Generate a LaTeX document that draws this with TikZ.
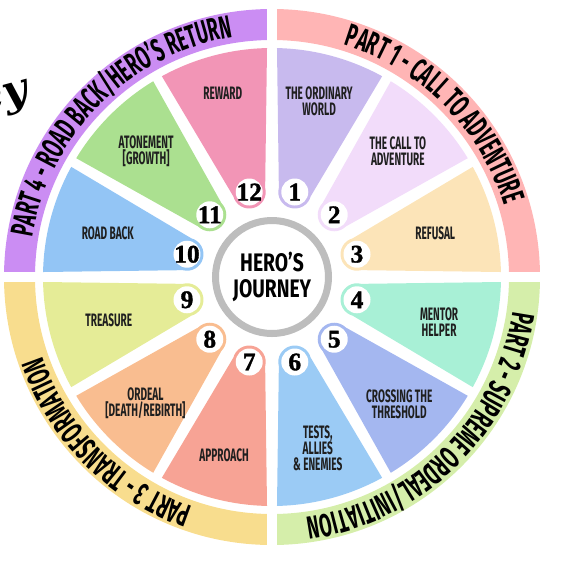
\documentclass[tikz,border=0pt]{standalone}
\usepackage{fontspec}
\usetikzlibrary{calc,decorations.text}

\newfontfamily\bandfont[FakeStretch=0.56]{Fira Sans}
\newfontfamily\hubfont[FakeStretch=0.76]{Fira Sans}
\newfontfamily\numfont[BoldFeatures={FakeBold=1.4}]{Liberation Serif}
\newfontfamily\titlefont{DejaVu Serif}

% part colours (outer band)
\definecolor{bandone}{HTML}{FFB5B5}
\definecolor{bandtwo}{HTML}{D5EEAA}
\definecolor{bandthree}{HTML}{F8DD8E}
\definecolor{bandfour}{HTML}{CB8DF3}
% stage colours (wedges)
\definecolor{stage1}{HTML}{C8BAEE}
\definecolor{stage2}{HTML}{F2DCFA}
\definecolor{stage3}{HTML}{FCE4B8}
\definecolor{stage4}{HTML}{A8F0D6}
\definecolor{stage5}{HTML}{A4B7F0}
\definecolor{stage6}{HTML}{9BCBF5}
\definecolor{stage7}{HTML}{F7A395}
\definecolor{stage8}{HTML}{F9BD90}
\definecolor{stage9}{HTML}{E5EC97}
\definecolor{stage10}{HTML}{93C5F5}
\definecolor{stage11}{HTML}{ABE090}
\definecolor{stage12}{HTML}{F295B6}
\definecolor{hubgray}{HTML}{BDBDBD}

\tikzset{
    stagelabel/.style={font=\bandfont\bfseries\fontsize{13.5}{12}\selectfont, align=center, text=black!88},
    stagenum/.style={font=\numfont\bfseries\fontsize{19}{19}\selectfont, inner sep=0pt},
    hub/.style={font=\hubfont\bfseries\fontsize{19}{20}\selectfont, align=center},
    bandtext/.style={decorate, decoration={text along path, text align=center,
        text format delimiters={|}{|}, text={|\bandfont\bfseries\fontsize{24}{24}\selectfont|#1}}},
    title/.style={font=\titlefont\bfseries\itshape\fontsize{32}{32}\selectfont}
}

\begin{document}
\begin{tikzpicture}[x=0.75pt, y=0.75pt]
    \useasboundingbox (-272,-288) rectangle (301,277);

    % Outer band, one colour per part
    \foreach \a/\col in {0/bandone, -90/bandtwo, -180/bandthree, 90/bandfour}
        \fill[\col] (\a:268) arc[start angle=\a, end angle=\a+90, radius=268]
            -- (\a+90:237) arc[start angle=\a+90, end angle=\a, radius=237] -- cycle;
    \draw[white, line width=7.5pt] (-275,0) -- (275,0) (0,-275) -- (0,275);

    % Wedges, tip rounded round the number
    \foreach \i in {1,...,12} {
        \pgfmathsetmacro\a{75-30*(\i-1)}
        \fill[stage\i] (\a-13.75:229) arc[start angle=\a-13.75, end angle=\a+13.75, radius=229]
            -- ($(\a:88)+(\a+90:16.5)$) arc[start angle=\a+90, end angle=\a+270, radius=16.5] -- cycle;
    }

    % Hub
    \fill[white] (0,0) circle[radius=60];
    \draw[hubgray, line width=5.25pt] (0,0) circle[radius=56.5];
    \node[hub] (hub) at (0,0) {HERO’S\\JOURNEY};

    % Numbers
    \foreach \i in {1,...,12} {
        \pgfmathsetmacro\a{75-30*(\i-1)}
        \fill[white] (\a:88) circle[radius=13.5];
        \node[stagenum] (num\i) at (\a:88) {\i};
    }

    % Stage names
    \foreach \i/\r/\txt in {1/182/{THE ORDINARY\\WORLD}, 2/178/{THE CALL TO\\ADVENTURE},
            3/169/{REFUSAL}, 4/173/{MENTOR\\HELPER}, 5/180/{CROSSING THE\\THRESHOLD},
            6/177/{TESTS,\\ALLIES\\\& ENEMIES}, 7/185/{APPROACH}, 8/179/{ORDEAL\\{[DEATH/REBIRTH]}},
            9/169/{TREASURE}, 10/170/{ROAD BACK}, 11/178/{ATONEMENT\\{[GROWTH]}}, 12/190/{REWARD}} {
        \pgfmathsetmacro\a{75-30*(\i-1)}
        \node[stagelabel] (lbl\i) at (\a:\r) {\txt};
    }

    % Part names along the band
    \path[bandtext={PART 1 - CALL TO ADVENTURE}] (88:243) arc[start angle=88, end angle=2, radius=243];
    \path[bandtext={PART 2 - SUPREME ORDEAL/INITIATION}] (-2:243) arc[start angle=-2, end angle=-88, radius=243];
    \path[bandtext={PART 3 - TRANSFORMATION}] (-92:243) arc[start angle=-92, end angle=-178, radius=243];
    \path[bandtext={PART 4 - ROAD BACK/HERO’S RETURN}] (178:243) arc[start angle=178, end angle=92, radius=243];

    % Title, cut off at the edge
    \node[title, rotate=15, anchor=base east, inner sep=0pt] (title) at (-241,176) {ey};
\end{tikzpicture}
\end{document}
